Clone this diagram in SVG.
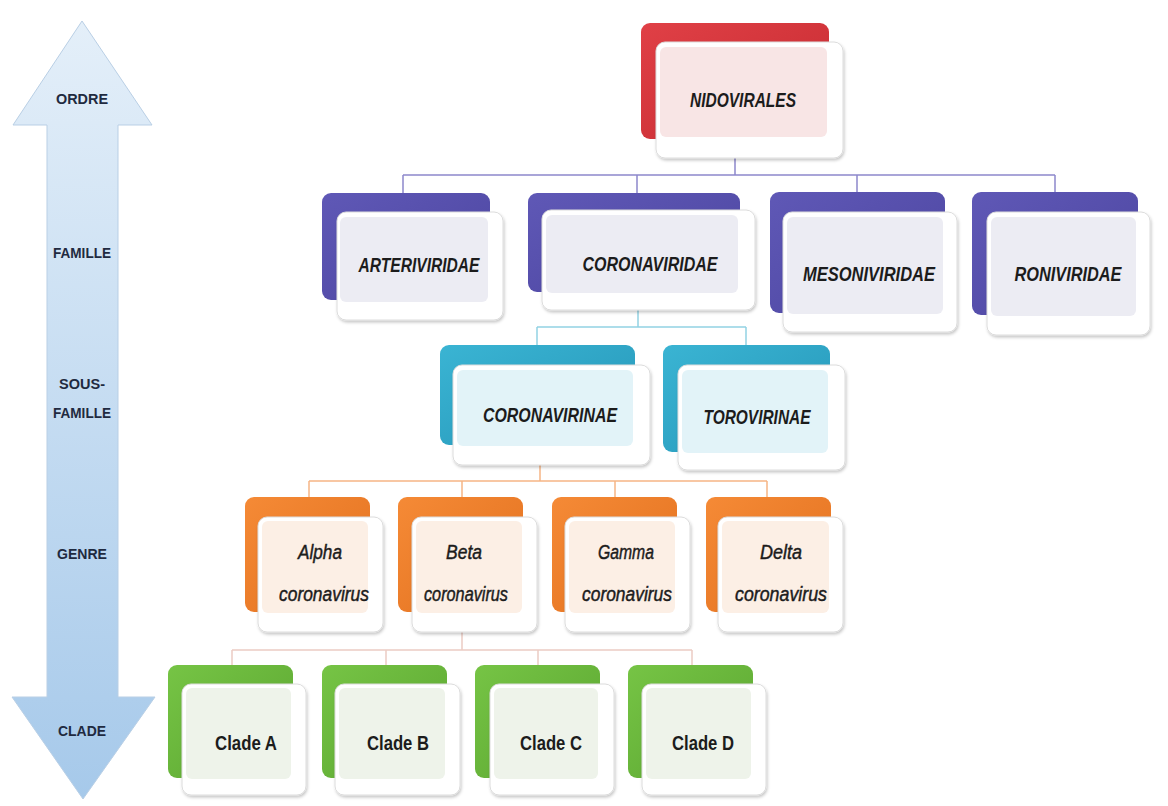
<svg xmlns="http://www.w3.org/2000/svg" width="1168" height="806" viewBox="0 0 1168 806">
<defs>
<style>
.lbl{font-family:"Liberation Sans",Arial,sans-serif;font-weight:bold;font-style:italic;font-size:20px;fill:#1c1c1c;text-anchor:middle}
.gen{font-weight:normal;font-size:20px;stroke:#1c1c1c;stroke-width:0.45}
.cl{font-style:normal;font-size:20px}
.ax{font-family:"Liberation Sans",Arial,sans-serif;font-weight:bold;font-size:14px;fill:#1f2a40;text-anchor:middle}
.front{fill:#ffffff;stroke:#dcdcdc;stroke-width:1;filter:url(#sh)}
.conn{fill:none;stroke-width:1.5}
</style>
<filter id="sh" x="-10%" y="-10%" width="125%" height="130%">
<feDropShadow dx="1" dy="2" stdDeviation="1.5" flood-color="#000" flood-opacity="0.22"/>
</filter>
<linearGradient id="gArrow" x1="0" y1="0" x2="0" y2="1">
<stop offset="0" stop-color="#e4eff9"/><stop offset="1" stop-color="#a6c9ea"/>
</linearGradient>
<linearGradient id="gRed" x1="0" y1="0" x2="1" y2="1">
<stop offset="0" stop-color="#e04046"/><stop offset="1" stop-color="#c52a30"/>
</linearGradient>
<linearGradient id="gPur" x1="0" y1="0" x2="1" y2="1">
<stop offset="0" stop-color="#5f58b6"/><stop offset="1" stop-color="#4c45a0"/>
</linearGradient>
<linearGradient id="gTeal" x1="0" y1="0" x2="1" y2="1">
<stop offset="0" stop-color="#3ab4d3"/><stop offset="1" stop-color="#2596b8"/>
</linearGradient>
<linearGradient id="gOr" x1="0" y1="0" x2="1" y2="1">
<stop offset="0" stop-color="#f58a36"/><stop offset="1" stop-color="#e2701e"/>
</linearGradient>
<linearGradient id="gGr" x1="0" y1="0" x2="1" y2="1">
<stop offset="0" stop-color="#76c445"/><stop offset="1" stop-color="#5aa530"/>
</linearGradient>
</defs>
<rect x="0" y="0" width="1168" height="806" fill="#ffffff"/>

<g id="axis">
<path d="M82 21 L152 125 L118 125 L118 697 L155 697 L83 799 L12 697 L47 697 L47 125 L13 125 Z" fill="url(#gArrow)" stroke="#b9cfe5" stroke-width="1"/>
<text class="ax" x="82" y="104" textLength="52" lengthAdjust="spacingAndGlyphs">ORDRE</text>
<text class="ax" x="82" y="258" textLength="58" lengthAdjust="spacingAndGlyphs">FAMILLE</text>
<text class="ax" x="82" y="389" textLength="46" lengthAdjust="spacingAndGlyphs">SOUS-</text>
<text class="ax" x="82" y="418" textLength="58" lengthAdjust="spacingAndGlyphs">FAMILLE</text>
<text class="ax" x="82" y="559" textLength="50" lengthAdjust="spacingAndGlyphs">GENRE</text>
<text class="ax" x="82" y="736" textLength="48" lengthAdjust="spacingAndGlyphs">CLADE</text>
</g>

<g id="connectors">
<path class="conn" stroke="#8d88cc" d="M735 158 V175 M403 175 H1055 M403 175 V193 M637 175 V193 M857 175 V192 M1055 175 V192"/>
<path class="conn" stroke="#92d2e3" d="M638 310 V327 M537 327 H746 M537 327 V345 M746 327 V345"/>
<path class="conn" stroke="#f6b585" d="M540 465 V481 M309 481 H767 M309 481 V497 M462 481 V497 M615 481 V497 M767 481 V497"/>
<path class="conn" stroke="#ecccc4" d="M462 632 V650 M232 650 H692 M232 650 V665 M386 650 V665 M538 650 V665 M692 650 V665"/>
</g>

<g id="n-nidovirales">
<rect x="641" y="23" width="188" height="116" rx="9" fill="url(#gRed)"/>
<rect class="front" x="656" y="42" width="187" height="116" rx="9"/>
<rect x="660" y="47" width="167" height="90" rx="6" fill="#f8e5e5"/>
<text class="lbl" x="743" y="107" textLength="106" lengthAdjust="spacingAndGlyphs">NIDOVIRALES</text>
</g>

<g id="n-arteriviridae">
<rect x="322" y="193" width="168" height="107" rx="9" fill="url(#gPur)"/>
<rect class="front" x="337" y="212" width="166" height="108" rx="9"/>
<rect x="340" y="217" width="148" height="85" rx="6" fill="#ececf3"/>
<text class="lbl" x="419" y="272" textLength="121" lengthAdjust="spacingAndGlyphs">ARTERIVIRIDAE</text>
</g>

<g id="n-coronaviridae">
<rect x="528" y="193" width="212" height="99" rx="9" fill="url(#gPur)"/>
<rect class="front" x="542" y="210" width="213" height="100" rx="9"/>
<rect x="546" y="215" width="192" height="78" rx="6" fill="#ececf3"/>
<text class="lbl" x="650" y="271" textLength="135" lengthAdjust="spacingAndGlyphs">CORONAVIRIDAE</text>
</g>

<g id="n-mesoniviridae">
<rect x="770" y="192" width="175" height="121" rx="9" fill="url(#gPur)"/>
<rect class="front" x="783" y="212" width="174" height="120" rx="9"/>
<rect x="787" y="217" width="156" height="97" rx="6" fill="#ececf3"/>
<text class="lbl" x="869" y="281" textLength="132" lengthAdjust="spacingAndGlyphs">MESONIVIRIDAE</text>
</g>

<g id="n-roniviridae">
<rect x="972" y="192" width="166" height="123" rx="9" fill="url(#gPur)"/>
<rect class="front" x="987" y="212" width="163" height="123" rx="9"/>
<rect x="991" y="217" width="145" height="99" rx="6" fill="#ececf3"/>
<text class="lbl" x="1068" y="281" textLength="107" lengthAdjust="spacingAndGlyphs">RONIVIRIDAE</text>
</g>

<g id="n-coronavirinae">
<rect x="440" y="345" width="195" height="100" rx="9" fill="url(#gTeal)"/>
<rect class="front" x="453" y="365" width="197" height="100" rx="9"/>
<rect x="457" y="370" width="176" height="76" rx="6" fill="#e2f3f8"/>
<text class="lbl" x="550" y="422" textLength="134" lengthAdjust="spacingAndGlyphs">CORONAVIRINAE</text>
</g>

<g id="n-torovirinae">
<rect x="663" y="345" width="167" height="107" rx="9" fill="url(#gTeal)"/>
<rect class="front" x="678" y="365" width="167" height="105" rx="9"/>
<rect x="682" y="370" width="146" height="83" rx="6" fill="#e2f3f8"/>
<text class="lbl" x="757" y="424" textLength="107" lengthAdjust="spacingAndGlyphs">TOROVIRINAE</text>
</g>

<g id="n-alpha">
<rect x="245" y="497" width="125" height="115" rx="9" fill="url(#gOr)"/>
<rect class="front" x="258" y="517" width="125" height="115" rx="9"/>
<rect x="262" y="521" width="106" height="92" rx="6" fill="#fcefe5"/>
<text class="lbl gen" x="320" y="559" textLength="44" lengthAdjust="spacingAndGlyphs">Alpha</text>
<text class="lbl gen" x="324" y="601" textLength="90" lengthAdjust="spacingAndGlyphs">coronavirus</text>
</g>

<g id="n-beta">
<rect x="398" y="497" width="125" height="115" rx="9" fill="url(#gOr)"/>
<rect class="front" x="412" y="517" width="125" height="115" rx="9"/>
<rect x="416" y="521" width="106" height="92" rx="6" fill="#fcefe5"/>
<text class="lbl gen" x="464" y="559" textLength="36" lengthAdjust="spacingAndGlyphs">Beta</text>
<text class="lbl gen" x="466" y="601" textLength="84" lengthAdjust="spacingAndGlyphs">coronavirus</text>
</g>

<g id="n-gamma">
<rect x="552" y="497" width="125" height="115" rx="9" fill="url(#gOr)"/>
<rect class="front" x="565" y="517" width="125" height="115" rx="9"/>
<rect x="569" y="521" width="106" height="92" rx="6" fill="#fcefe5"/>
<text class="lbl gen" x="626" y="559" textLength="56" lengthAdjust="spacingAndGlyphs">Gamma</text>
<text class="lbl gen" x="627" y="601" textLength="90" lengthAdjust="spacingAndGlyphs">coronavirus</text>
</g>

<g id="n-delta">
<rect x="706" y="497" width="125" height="115" rx="9" fill="url(#gOr)"/>
<rect class="front" x="718" y="517" width="125" height="115" rx="9"/>
<rect x="722" y="521" width="107" height="92" rx="6" fill="#fcefe5"/>
<text class="lbl gen" x="781" y="559" textLength="42" lengthAdjust="spacingAndGlyphs">Delta</text>
<text class="lbl gen" x="781" y="601" textLength="92" lengthAdjust="spacingAndGlyphs">coronavirus</text>
</g>

<g id="n-clade-a">
<rect x="168" y="665" width="125" height="113" rx="9" fill="url(#gGr)"/>
<rect class="front" x="182" y="684" width="124" height="111" rx="9"/>
<rect x="186" y="688" width="105" height="91" rx="6" fill="#eef3ea"/>
<text class="lbl cl" x="246" y="750" textLength="62" lengthAdjust="spacingAndGlyphs">Clade A</text>
</g>

<g id="n-clade-b">
<rect x="322" y="665" width="125" height="113" rx="9" fill="url(#gGr)"/>
<rect class="front" x="335" y="684" width="125" height="111" rx="9"/>
<rect x="339" y="688" width="106" height="91" rx="6" fill="#eef3ea"/>
<text class="lbl cl" x="398" y="750" textLength="62" lengthAdjust="spacingAndGlyphs">Clade B</text>
</g>

<g id="n-clade-c">
<rect x="475" y="665" width="125" height="113" rx="9" fill="url(#gGr)"/>
<rect class="front" x="490" y="684" width="124" height="111" rx="9"/>
<rect x="494" y="688" width="104" height="91" rx="6" fill="#eef3ea"/>
<text class="lbl cl" x="551" y="750" textLength="62" lengthAdjust="spacingAndGlyphs">Clade C</text>
</g>

<g id="n-clade-d">
<rect x="628" y="665" width="125" height="113" rx="9" fill="url(#gGr)"/>
<rect class="front" x="642" y="684" width="124" height="111" rx="9"/>
<rect x="646" y="688" width="105" height="91" rx="6" fill="#eef3ea"/>
<text class="lbl cl" x="703" y="750" textLength="62" lengthAdjust="spacingAndGlyphs">Clade D</text>
</g>
</svg>
